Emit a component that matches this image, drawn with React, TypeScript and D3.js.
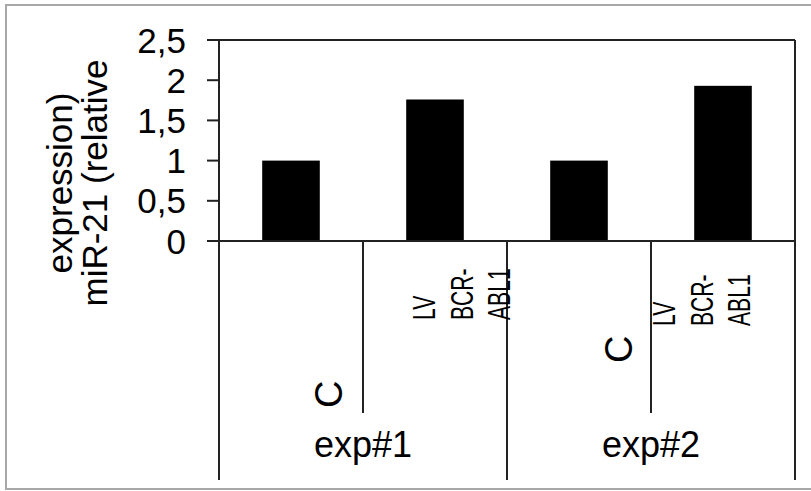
import React from "react";
import * as d3 from "d3";

// ---- data ----
const categories = ["C", "LV BCR-ABL1", "C", "LV BCR-ABL1"];
const categoryLabelLines = [["C"], ["LV", "BCR-", "ABL1"], ["C"], ["LV", "BCR-", "ABL1"]];
const groups = ["exp#1", "exp#2"];
const groupOf = [0, 0, 1, 1];
const values = [1.0, 1.76, 1.0, 1.93];
const yTicks = [0, 0.5, 1, 1.5, 2, 2.5];
const yTickLabels = ["0", "0,5", "1", "1,5", "2", "2,5"];
const yTitleLines = ["expression)", "miR-21 (relative"];

// ---- layout (styles / positions, not data) ----
const W = 811;
const H = 491;
const left = 219;
const right = 795;
const top = 40;
const zeroY = 241;
const bottomLong = 480;
const bottomShort = 413;
const labelLayout = [
  { dx: 51, y: 408, size: 38, sx: 1 },
  { dx: 0, y: 320, size: 32, sx: 0.66 },
  { dx: 53, y: 363, size: 38, sx: 1 },
  { dx: -48, y: 326, size: 32, sx: 0.66 },
];
const lineGap = 37.5;
const FONT = "'Liberation Sans', Arial, sans-serif";
const AXIS = "#222";

export default function App() {
  const x = d3.scaleBand<number>().domain(d3.range(categories.length)).range([left, right]).padding(0);
  const y = d3.scaleLinear().domain([0, 2.5]).range([zeroY, top]);
  const bw = x.bandwidth();
  const barW = bw * 0.4;

  const groupSpans = groups.map((g, gi) => {
    const idx = categories.map((_, i) => i).filter((i) => groupOf[i] === gi);
    const x0 = x(idx[0])!;
    const x1 = x(idx[idx.length - 1])! + bw;
    return { g, x0, x1 };
  });

  const seps = d3.range(1, categories.length).map((i) => ({
    x: x(i)!,
    long: groupOf[i] !== groupOf[i - 1],
  }));

  return (
    <svg width={W} height={H} style={{ position: "absolute", left: 0, top: 0, background: "#fff" }}>
      <rect x={6} y={5} width={830} height={484} fill="none" stroke="#a8a8a8" strokeWidth={2} />

      {values.map((v, i) => {
        const cx = x(i)! + bw / 2;
        return <rect key={i} x={cx - barW / 2} y={y(v)} width={barW} height={y(0) - y(v)} fill="#000" />;
      })}

      <line x1={207} x2={right} y1={y(2.5)} y2={y(2.5)} stroke={AXIS} strokeWidth={2} />
      <line x1={207} x2={right} y1={y(0)} y2={y(0)} stroke={AXIS} strokeWidth={2} />
      <line x1={left} x2={left} y1={top} y2={bottomLong} stroke={AXIS} strokeWidth={2} />
      <line x1={right} x2={right} y1={top} y2={bottomLong} stroke={AXIS} strokeWidth={2} />
      {seps.map((s, i) => (
        <line key={i} x1={s.x} x2={s.x} y1={zeroY} y2={s.long ? bottomLong : bottomShort} stroke={AXIS} strokeWidth={2} />
      ))}

      {yTicks.map((t, i) => (
        <g key={i}>
          <line x1={207} x2={left} y1={y(t)} y2={y(t)} stroke={AXIS} strokeWidth={2} />
          <text x={186} y={y(t)} dy="0.36em" textAnchor="end" fontFamily={FONT} fontSize={35} fill="#000">
            {yTickLabels[i]}
          </text>
        </g>
      ))}

      {yTitleLines.map((l, i) => (
        <text
          key={i}
          transform={`translate(${72 + i * 35},183) rotate(-90)`}
          textAnchor="middle"
          fontFamily={FONT}
          fontSize={35}
          fill="#000"
        >
          {l}
        </text>
      ))}

      {categoryLabelLines.map((lines, i) => {
        const L = labelLayout[i];
        const cx = x(i)! + bw / 2;
        return lines.map((ln, j) => (
          <text
            key={`${i}-${j}`}
            transform={`translate(${cx + L.dx + j * lineGap},${L.y}) rotate(-90) scale(${L.sx},1)`}
            textAnchor="start"
            fontFamily={FONT}
            fontSize={L.size}
            fill="#000"
          >
            {ln}
          </text>
        ));
      })}

      {groupSpans.map((s, i) => (
        <text key={i} x={(s.x0 + s.x1) / 2} y={457} textAnchor="middle" fontFamily={FONT} fontSize={36} fill="#000">
          {s.g}
        </text>
      ))}
    </svg>
  );
}
